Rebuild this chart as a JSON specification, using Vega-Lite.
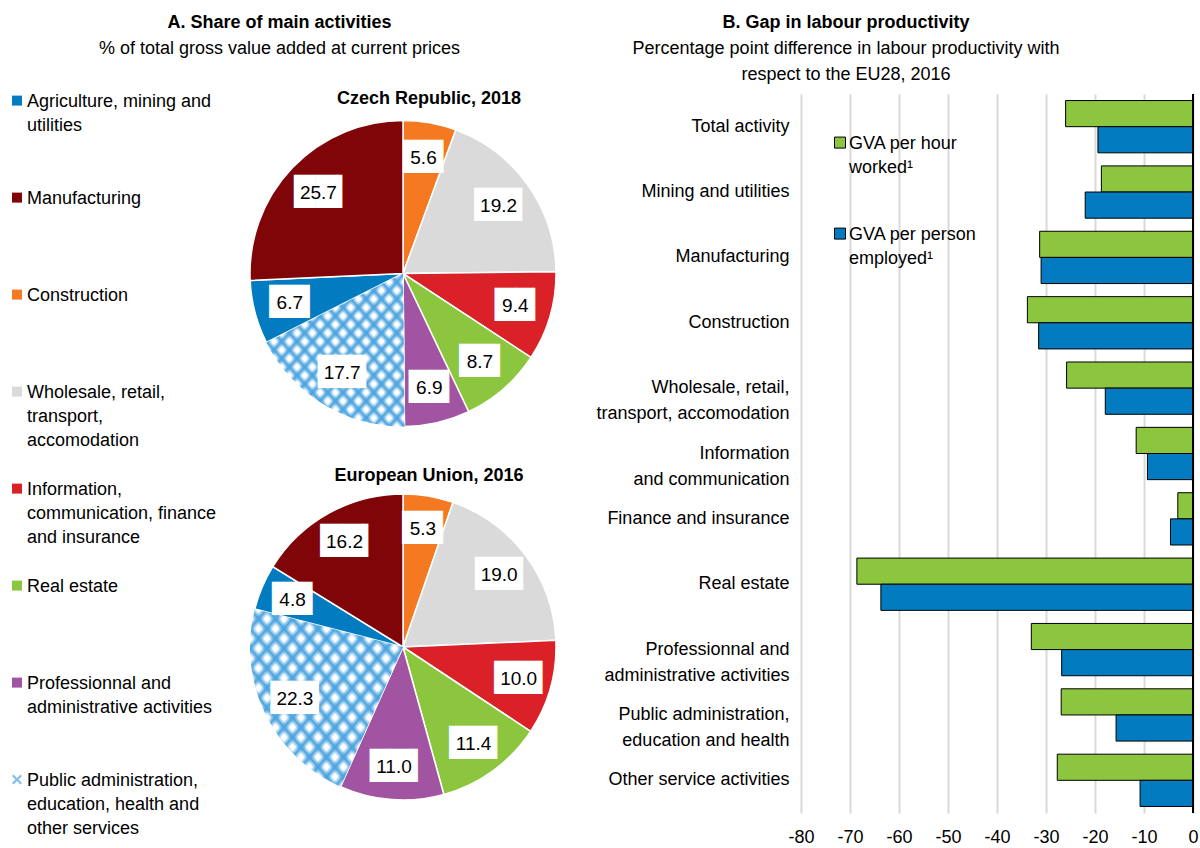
{
  "$schema": "https://vega.github.io/schema/vega-lite/v6.json",
  "padding": {"left": 8, "top": 14, "right": 0, "bottom": 0},
  "background": "white",
  "datasets": {
    "pies": [
      {"pie": "CR", "k": 1, "cat": "Construction", "v": 5.6},
      {"pie": "CR", "k": 2, "cat": "Wholesale, retail,|transport,|\u00a0accomodation", "v": 19.2},
      {"pie": "CR", "k": 3, "cat": "Information,|communication, finance|and insurance", "v": 9.4},
      {"pie": "CR", "k": 4, "cat": "Real estate", "v": 8.7},
      {"pie": "CR", "k": 5, "cat": "Professionnal and|administrative activities", "v": 6.9},
      {"pie": "CR", "k": 6, "cat": "Public administration,|education, health and|other services", "v": 17.7},
      {"pie": "CR", "k": 7, "cat": "Agriculture, mining and|utilities", "v": 6.7},
      {"pie": "CR", "k": 8, "cat": "Manufacturing", "v": 25.7},
      {"pie": "EU", "k": 1, "cat": "Construction", "v": 5.3},
      {"pie": "EU", "k": 2, "cat": "Wholesale, retail,|transport,|\u00a0accomodation", "v": 19.0},
      {"pie": "EU", "k": 3, "cat": "Information,|communication, finance|and insurance", "v": 10.0},
      {"pie": "EU", "k": 4, "cat": "Real estate", "v": 11.4},
      {"pie": "EU", "k": 5, "cat": "Professionnal and|administrative activities", "v": 11.0},
      {"pie": "EU", "k": 6, "cat": "Public administration,|education, health and|other services", "v": 22.3},
      {"pie": "EU", "k": 7, "cat": "Agriculture, mining and|utilities", "v": 4.8},
      {"pie": "EU", "k": 8, "cat": "Manufacturing", "v": 16.2}
    ],
    "gap": [
      {"sector": "Total activity", "m": "GVA per hour|worked¹", "v": -26.0},
      {"sector": "Total activity", "m": "GVA per person|employed¹", "v": -19.4},
      {"sector": "Mining and utilities", "m": "GVA per hour|worked¹", "v": -18.7},
      {"sector": "Mining and utilities", "m": "GVA per person|employed¹", "v": -22.0},
      {"sector": "Manufacturing", "m": "GVA per hour|worked¹", "v": -31.3},
      {"sector": "Manufacturing", "m": "GVA per person|employed¹", "v": -31.0},
      {"sector": "Construction", "m": "GVA per hour|worked¹", "v": -33.8},
      {"sector": "Construction", "m": "GVA per person|employed¹", "v": -31.5},
      {"sector": "Wholesale, retail,|transport, accomodation", "m": "GVA per hour|worked¹", "v": -25.8},
      {"sector": "Wholesale, retail,|transport, accomodation", "m": "GVA per person|employed¹", "v": -17.9},
      {"sector": "Information|and communication", "m": "GVA per hour|worked¹", "v": -11.6},
      {"sector": "Information|and communication", "m": "GVA per person|employed¹", "v": -9.3},
      {"sector": "Finance and insurance", "m": "GVA per hour|worked¹", "v": -3.1},
      {"sector": "Finance and insurance", "m": "GVA per person|employed¹", "v": -4.6},
      {"sector": "Real estate", "m": "GVA per hour|worked¹", "v": -68.6},
      {"sector": "Real estate", "m": "GVA per person|employed¹", "v": -63.7},
      {"sector": "Professionnal and|administrative activities", "m": "GVA per hour|worked¹", "v": -33.0},
      {"sector": "Professionnal and|administrative activities", "m": "GVA per person|employed¹", "v": -26.8},
      {"sector": "Public administration,|education and health", "m": "GVA per hour|worked¹", "v": -26.9},
      {"sector": "Public administration,|education and health", "m": "GVA per person|employed¹", "v": -15.7},
      {"sector": "Other service activities", "m": "GVA per hour|worked¹", "v": -27.7},
      {"sector": "Other service activities", "m": "GVA per person|employed¹", "v": -10.8}
    ]
  },
  "config": {
    "font": "Liberation Sans",
    "view": {"stroke": null},
    "style": {"guide-label": {"lineHeight": 24}},
    "title": {"font": "Liberation Sans", "fontSize": 18, "fontWeight": "bold", "color": "black", "subtitleFont": "Liberation Sans", "subtitleFontSize": 18, "subtitleColor": "black", "subtitlePadding": 8, "anchor": "middle"},
    "axis": {"labelFont": "Liberation Sans", "labelColor": "black", "labelFontSize": 18},
    "legend": {"labelFont": "Liberation Sans", "labelColor": "black", "padding": 0},
    "text": {"font": "Liberation Sans"}
  },
  "resolve": {"scale": {"color": "independent"}, "legend": {"color": "independent"}},
  "spacing": 36,
  "hconcat": [
    {
      "title": {"text": "A. Share of main activities", "subtitle": "% of total gross value added at current prices", "offset": 26, "dx": -4},
      "spacing": 14,
      "resolve": {"scale": {"theta": "independent"}},
      "vconcat": [
        {
          "data": {"name": "pies"},
          "transform": [{"filter": "datum.pie === 'CR'"}],
          "width": 306, "height": 359,
          "title": {"text": "Czech Republic, 2018", "dx": 26, "offset": -14},
          "layer": [
            {"mark": {"type": "point", "filled": true, "color": "#4aa3df"},
             "encoding": {
               "shape": {"field": "cat", "type": "nominal",
                 "scale": {"domain": ["Agriculture, mining and|utilities", "Manufacturing", "Construction", "Wholesale, retail,|transport,|\u00a0accomodation", "Information,|communication, finance|and insurance", "Real estate", "Professionnal and|administrative activities", "Public administration,|education, health and|other services"],
                           "range": ["M0,0Z", "M0,0Z", "M0,0Z", "M0,0Z", "M0,0Z", "M0,0Z", "M0,0Z", "M-1,0.82L-0.7,0.52L0,1.22L0.7,0.52L1,0.82L0.3,1.52L1,2.22L0.7,2.52L0,1.82L-0.7,2.52L-1,2.22L-0.3,1.52Z"]},
                 "legend": {"orient": "none", "legendX": -242, "legendY": -10, "title": null, "labelExpr": "split(datum.label, '|')", "labelFontSize": 18, "labelOpacity": 0, "labelLimit": 300, "labelBaseline": "top", "labelOffset": 1, "symbolSize": 100, "symbolFillColor": "#4aa3df", "symbolStrokeWidth": 0, "gridAlign": "all", "rowPadding": 22}}
             }},
            {"encoding": {"theta": {"field": "v", "type": "quantitative", "stack": true}, "order": {"field": "k", "type": "quantitative"}},
             "layer": [
              {"mark": {"type": "arc", "stroke": "white", "strokeWidth": 1.5},
               "encoding": {"color": {"field": "cat", "type": "nominal", "condition": {"test": "datum.k === 6", "value": "white"},
                 "scale": {"domain": ["Agriculture, mining and|utilities", "Manufacturing", "Construction", "Wholesale, retail,|transport,|\u00a0accomodation", "Information,|communication, finance|and insurance", "Real estate", "Professionnal and|administrative activities", "Public administration,|education, health and|other services"],
                           "range": ["#037bc1", "#7f0509", "#f47920", "#dadada", "#da2128", "#8cc63f", "#a154a1", "transparent"]},
                 "legend": {"orient": "none", "legendX": -242, "legendY": -10, "title": null, "labelExpr": "split(datum.label, '|')", "labelFontSize": 18, "labelColor": "black", "labelLimit": 300, "labelBaseline": "top", "labelOffset": 1, "symbolSize": 100, "symbolType": "M-1,0.52L1,0.52L1,2.52L-1,2.52Z", "symbolStrokeWidth": 0, "gridAlign": "all", "rowPadding": 22}}}},
              {"mark": {"type": "arc", "fill": {"gradient": "linear", "x1": 0, "y1": 0, "x2": 1, "y2": 1, "stops": [
                {"offset": 0, "color": "#4aa3df"}, {"offset": 0.0194, "color": "rgba(74,163,223,0)"}, {"offset": 0.0361, "color": "rgba(74,163,223,0)"},
                {"offset": 0.0556, "color": "#4aa3df"}, {"offset": 0.075, "color": "rgba(74,163,223,0)"}, {"offset": 0.0917, "color": "rgba(74,163,223,0)"},
                {"offset": 0.1111, "color": "#4aa3df"}, {"offset": 0.1306, "color": "rgba(74,163,223,0)"}, {"offset": 0.1472, "color": "rgba(74,163,223,0)"},
                {"offset": 0.1667, "color": "#4aa3df"}, {"offset": 0.1861, "color": "rgba(74,163,223,0)"}, {"offset": 0.2028, "color": "rgba(74,163,223,0)"},
                {"offset": 0.2222, "color": "#4aa3df"}, {"offset": 0.2417, "color": "rgba(74,163,223,0)"}, {"offset": 0.2583, "color": "rgba(74,163,223,0)"},
                {"offset": 0.2778, "color": "#4aa3df"}, {"offset": 0.2972, "color": "rgba(74,163,223,0)"}, {"offset": 0.3139, "color": "rgba(74,163,223,0)"},
                {"offset": 0.3333, "color": "#4aa3df"}, {"offset": 0.3528, "color": "rgba(74,163,223,0)"}, {"offset": 0.3694, "color": "rgba(74,163,223,0)"},
                {"offset": 0.3889, "color": "#4aa3df"}, {"offset": 0.4083, "color": "rgba(74,163,223,0)"}, {"offset": 0.425, "color": "rgba(74,163,223,0)"},
                {"offset": 0.4444, "color": "#4aa3df"}, {"offset": 0.4639, "color": "rgba(74,163,223,0)"}, {"offset": 0.4806, "color": "rgba(74,163,223,0)"},
                {"offset": 0.5, "color": "#4aa3df"}, {"offset": 0.5194, "color": "rgba(74,163,223,0)"}, {"offset": 0.5361, "color": "rgba(74,163,223,0)"},
                {"offset": 0.5556, "color": "#4aa3df"}, {"offset": 0.575, "color": "rgba(74,163,223,0)"}, {"offset": 0.5917, "color": "rgba(74,163,223,0)"},
                {"offset": 0.6111, "color": "#4aa3df"}, {"offset": 0.6306, "color": "rgba(74,163,223,0)"}, {"offset": 0.6472, "color": "rgba(74,163,223,0)"},
                {"offset": 0.6667, "color": "#4aa3df"}, {"offset": 0.6861, "color": "rgba(74,163,223,0)"}, {"offset": 0.7028, "color": "rgba(74,163,223,0)"},
                {"offset": 0.7222, "color": "#4aa3df"}, {"offset": 0.7417, "color": "rgba(74,163,223,0)"}, {"offset": 0.7583, "color": "rgba(74,163,223,0)"},
                {"offset": 0.7778, "color": "#4aa3df"}, {"offset": 0.7972, "color": "rgba(74,163,223,0)"}, {"offset": 0.8139, "color": "rgba(74,163,223,0)"},
                {"offset": 0.8333, "color": "#4aa3df"}, {"offset": 0.8528, "color": "rgba(74,163,223,0)"}, {"offset": 0.8694, "color": "rgba(74,163,223,0)"},
                {"offset": 0.8889, "color": "#4aa3df"}, {"offset": 0.9083, "color": "rgba(74,163,223,0)"}, {"offset": 0.925, "color": "rgba(74,163,223,0)"},
                {"offset": 0.9444, "color": "#4aa3df"}, {"offset": 0.9639, "color": "rgba(74,163,223,0)"}, {"offset": 0.9806, "color": "rgba(74,163,223,0)"},
                {"offset": 1, "color": "#4aa3df"}]}},
               "encoding": {"opacity": {"condition": {"test": "datum.k === 6", "value": 1}, "value": 0}}},
              {"mark": {"type": "arc", "fill": {"gradient": "linear", "x1": 1, "y1": 0, "x2": 0, "y2": 1, "stops": [
                {"offset": 0, "color": "#4aa3df"}, {"offset": 0.0194, "color": "rgba(74,163,223,0)"}, {"offset": 0.0361, "color": "rgba(74,163,223,0)"},
                {"offset": 0.0556, "color": "#4aa3df"}, {"offset": 0.075, "color": "rgba(74,163,223,0)"}, {"offset": 0.0917, "color": "rgba(74,163,223,0)"},
                {"offset": 0.1111, "color": "#4aa3df"}, {"offset": 0.1306, "color": "rgba(74,163,223,0)"}, {"offset": 0.1472, "color": "rgba(74,163,223,0)"},
                {"offset": 0.1667, "color": "#4aa3df"}, {"offset": 0.1861, "color": "rgba(74,163,223,0)"}, {"offset": 0.2028, "color": "rgba(74,163,223,0)"},
                {"offset": 0.2222, "color": "#4aa3df"}, {"offset": 0.2417, "color": "rgba(74,163,223,0)"}, {"offset": 0.2583, "color": "rgba(74,163,223,0)"},
                {"offset": 0.2778, "color": "#4aa3df"}, {"offset": 0.2972, "color": "rgba(74,163,223,0)"}, {"offset": 0.3139, "color": "rgba(74,163,223,0)"},
                {"offset": 0.3333, "color": "#4aa3df"}, {"offset": 0.3528, "color": "rgba(74,163,223,0)"}, {"offset": 0.3694, "color": "rgba(74,163,223,0)"},
                {"offset": 0.3889, "color": "#4aa3df"}, {"offset": 0.4083, "color": "rgba(74,163,223,0)"}, {"offset": 0.425, "color": "rgba(74,163,223,0)"},
                {"offset": 0.4444, "color": "#4aa3df"}, {"offset": 0.4639, "color": "rgba(74,163,223,0)"}, {"offset": 0.4806, "color": "rgba(74,163,223,0)"},
                {"offset": 0.5, "color": "#4aa3df"}, {"offset": 0.5194, "color": "rgba(74,163,223,0)"}, {"offset": 0.5361, "color": "rgba(74,163,223,0)"},
                {"offset": 0.5556, "color": "#4aa3df"}, {"offset": 0.575, "color": "rgba(74,163,223,0)"}, {"offset": 0.5917, "color": "rgba(74,163,223,0)"},
                {"offset": 0.6111, "color": "#4aa3df"}, {"offset": 0.6306, "color": "rgba(74,163,223,0)"}, {"offset": 0.6472, "color": "rgba(74,163,223,0)"},
                {"offset": 0.6667, "color": "#4aa3df"}, {"offset": 0.6861, "color": "rgba(74,163,223,0)"}, {"offset": 0.7028, "color": "rgba(74,163,223,0)"},
                {"offset": 0.7222, "color": "#4aa3df"}, {"offset": 0.7417, "color": "rgba(74,163,223,0)"}, {"offset": 0.7583, "color": "rgba(74,163,223,0)"},
                {"offset": 0.7778, "color": "#4aa3df"}, {"offset": 0.7972, "color": "rgba(74,163,223,0)"}, {"offset": 0.8139, "color": "rgba(74,163,223,0)"},
                {"offset": 0.8333, "color": "#4aa3df"}, {"offset": 0.8528, "color": "rgba(74,163,223,0)"}, {"offset": 0.8694, "color": "rgba(74,163,223,0)"},
                {"offset": 0.8889, "color": "#4aa3df"}, {"offset": 0.9083, "color": "rgba(74,163,223,0)"}, {"offset": 0.925, "color": "rgba(74,163,223,0)"},
                {"offset": 0.9444, "color": "#4aa3df"}, {"offset": 0.9639, "color": "rgba(74,163,223,0)"}, {"offset": 0.9806, "color": "rgba(74,163,223,0)"},
                {"offset": 1, "color": "#4aa3df"}]}},
               "encoding": {"opacity": {"condition": {"test": "datum.k === 6", "value": 1}, "value": 0}}},
              {"mark": {"type": "text", "radius": 117, "font": "DejaVu Sans", "fontSize": 28, "color": "white", "dx": 8},
               "encoding": {"text": {"condition": {"test": "datum.v >= 10", "value": "██▎"}, "value": ""}}},
              {"mark": {"type": "text", "radius": 117, "font": "DejaVu Sans", "fontSize": 28, "color": "white", "dx": 1},
               "encoding": {"text": {"condition": {"test": "datum.v < 10", "value": "█▉"}, "value": ""}}},
              {"mark": {"type": "text", "radius": 117, "fontSize": 19, "color": "black"},
               "encoding": {"text": {"field": "v", "type": "quantitative", "format": ".1f"}}}
             ]}
          ]
        },
        {
          "data": {"name": "pies"},
          "transform": [{"filter": "datum.pie === 'EU'"}],
          "width": 306, "height": 306,
          "title": {"text": "European Union, 2016", "dx": 26, "offset": 6},
          "layer": [
            {"mark": {"type": "point", "filled": true, "color": "#4aa3df"},
             "encoding": {
               "shape": {"field": "cat", "type": "nominal",
                 "scale": {"domain": ["Agriculture, mining and|utilities", "Manufacturing", "Construction", "Wholesale, retail,|transport,|\u00a0accomodation", "Information,|communication, finance|and insurance", "Real estate", "Professionnal and|administrative activities", "Public administration,|education, health and|other services"],
                           "range": ["M0,0Z", "M0,0Z", "M0,0Z", "M0,0Z", "M0,0Z", "M0,0Z", "M0,0Z", "M-1,0.82L-0.7,0.52L0,1.22L0.7,0.52L1,0.82L0.3,1.52L1,2.22L0.7,2.52L0,1.82L-0.7,2.52L-1,2.22L-0.3,1.52Z"]},
                 "legend": {"orient": "none", "legendX": -242, "legendY": -10, "title": null, "labelExpr": "split(datum.label, '|')", "labelFontSize": 18, "labelOpacity": 0, "labelLimit": 300, "labelBaseline": "top", "labelOffset": 1, "symbolSize": 100, "symbolFillColor": "#4aa3df", "symbolStrokeWidth": 0, "gridAlign": "all", "rowPadding": 22}}
             }},
            {"encoding": {"theta": {"field": "v", "type": "quantitative", "stack": true}, "order": {"field": "k", "type": "quantitative"}},
             "layer": [
              {"mark": {"type": "arc", "stroke": "white", "strokeWidth": 1.5},
               "encoding": {"color": {"field": "cat", "type": "nominal", "condition": {"test": "datum.k === 6", "value": "white"},
                 "scale": {"domain": ["Agriculture, mining and|utilities", "Manufacturing", "Construction", "Wholesale, retail,|transport,|\u00a0accomodation", "Information,|communication, finance|and insurance", "Real estate", "Professionnal and|administrative activities", "Public administration,|education, health and|other services"],
                           "range": ["#037bc1", "#7f0509", "#f47920", "#dadada", "#da2128", "#8cc63f", "#a154a1", "transparent"]},
                 "legend": {"orient": "none", "legendX": -242, "legendY": -10, "title": null, "labelExpr": "split(datum.label, '|')", "labelFontSize": 18, "labelColor": "black", "labelLimit": 300, "labelBaseline": "top", "labelOffset": 1, "symbolSize": 100, "symbolType": "M-1,0.52L1,0.52L1,2.52L-1,2.52Z", "symbolStrokeWidth": 0, "gridAlign": "all", "rowPadding": 22}}}},
              {"mark": {"type": "arc", "fill": {"gradient": "linear", "x1": 0, "y1": 0, "x2": 1, "y2": 1, "stops": [
                {"offset": 0, "color": "#4aa3df"}, {"offset": 0.0194, "color": "rgba(74,163,223,0)"}, {"offset": 0.0361, "color": "rgba(74,163,223,0)"},
                {"offset": 0.0556, "color": "#4aa3df"}, {"offset": 0.075, "color": "rgba(74,163,223,0)"}, {"offset": 0.0917, "color": "rgba(74,163,223,0)"},
                {"offset": 0.1111, "color": "#4aa3df"}, {"offset": 0.1306, "color": "rgba(74,163,223,0)"}, {"offset": 0.1472, "color": "rgba(74,163,223,0)"},
                {"offset": 0.1667, "color": "#4aa3df"}, {"offset": 0.1861, "color": "rgba(74,163,223,0)"}, {"offset": 0.2028, "color": "rgba(74,163,223,0)"},
                {"offset": 0.2222, "color": "#4aa3df"}, {"offset": 0.2417, "color": "rgba(74,163,223,0)"}, {"offset": 0.2583, "color": "rgba(74,163,223,0)"},
                {"offset": 0.2778, "color": "#4aa3df"}, {"offset": 0.2972, "color": "rgba(74,163,223,0)"}, {"offset": 0.3139, "color": "rgba(74,163,223,0)"},
                {"offset": 0.3333, "color": "#4aa3df"}, {"offset": 0.3528, "color": "rgba(74,163,223,0)"}, {"offset": 0.3694, "color": "rgba(74,163,223,0)"},
                {"offset": 0.3889, "color": "#4aa3df"}, {"offset": 0.4083, "color": "rgba(74,163,223,0)"}, {"offset": 0.425, "color": "rgba(74,163,223,0)"},
                {"offset": 0.4444, "color": "#4aa3df"}, {"offset": 0.4639, "color": "rgba(74,163,223,0)"}, {"offset": 0.4806, "color": "rgba(74,163,223,0)"},
                {"offset": 0.5, "color": "#4aa3df"}, {"offset": 0.5194, "color": "rgba(74,163,223,0)"}, {"offset": 0.5361, "color": "rgba(74,163,223,0)"},
                {"offset": 0.5556, "color": "#4aa3df"}, {"offset": 0.575, "color": "rgba(74,163,223,0)"}, {"offset": 0.5917, "color": "rgba(74,163,223,0)"},
                {"offset": 0.6111, "color": "#4aa3df"}, {"offset": 0.6306, "color": "rgba(74,163,223,0)"}, {"offset": 0.6472, "color": "rgba(74,163,223,0)"},
                {"offset": 0.6667, "color": "#4aa3df"}, {"offset": 0.6861, "color": "rgba(74,163,223,0)"}, {"offset": 0.7028, "color": "rgba(74,163,223,0)"},
                {"offset": 0.7222, "color": "#4aa3df"}, {"offset": 0.7417, "color": "rgba(74,163,223,0)"}, {"offset": 0.7583, "color": "rgba(74,163,223,0)"},
                {"offset": 0.7778, "color": "#4aa3df"}, {"offset": 0.7972, "color": "rgba(74,163,223,0)"}, {"offset": 0.8139, "color": "rgba(74,163,223,0)"},
                {"offset": 0.8333, "color": "#4aa3df"}, {"offset": 0.8528, "color": "rgba(74,163,223,0)"}, {"offset": 0.8694, "color": "rgba(74,163,223,0)"},
                {"offset": 0.8889, "color": "#4aa3df"}, {"offset": 0.9083, "color": "rgba(74,163,223,0)"}, {"offset": 0.925, "color": "rgba(74,163,223,0)"},
                {"offset": 0.9444, "color": "#4aa3df"}, {"offset": 0.9639, "color": "rgba(74,163,223,0)"}, {"offset": 0.9806, "color": "rgba(74,163,223,0)"},
                {"offset": 1, "color": "#4aa3df"}]}},
               "encoding": {"opacity": {"condition": {"test": "datum.k === 6", "value": 1}, "value": 0}}},
              {"mark": {"type": "arc", "fill": {"gradient": "linear", "x1": 1, "y1": 0, "x2": 0, "y2": 1, "stops": [
                {"offset": 0, "color": "#4aa3df"}, {"offset": 0.0194, "color": "rgba(74,163,223,0)"}, {"offset": 0.0361, "color": "rgba(74,163,223,0)"},
                {"offset": 0.0556, "color": "#4aa3df"}, {"offset": 0.075, "color": "rgba(74,163,223,0)"}, {"offset": 0.0917, "color": "rgba(74,163,223,0)"},
                {"offset": 0.1111, "color": "#4aa3df"}, {"offset": 0.1306, "color": "rgba(74,163,223,0)"}, {"offset": 0.1472, "color": "rgba(74,163,223,0)"},
                {"offset": 0.1667, "color": "#4aa3df"}, {"offset": 0.1861, "color": "rgba(74,163,223,0)"}, {"offset": 0.2028, "color": "rgba(74,163,223,0)"},
                {"offset": 0.2222, "color": "#4aa3df"}, {"offset": 0.2417, "color": "rgba(74,163,223,0)"}, {"offset": 0.2583, "color": "rgba(74,163,223,0)"},
                {"offset": 0.2778, "color": "#4aa3df"}, {"offset": 0.2972, "color": "rgba(74,163,223,0)"}, {"offset": 0.3139, "color": "rgba(74,163,223,0)"},
                {"offset": 0.3333, "color": "#4aa3df"}, {"offset": 0.3528, "color": "rgba(74,163,223,0)"}, {"offset": 0.3694, "color": "rgba(74,163,223,0)"},
                {"offset": 0.3889, "color": "#4aa3df"}, {"offset": 0.4083, "color": "rgba(74,163,223,0)"}, {"offset": 0.425, "color": "rgba(74,163,223,0)"},
                {"offset": 0.4444, "color": "#4aa3df"}, {"offset": 0.4639, "color": "rgba(74,163,223,0)"}, {"offset": 0.4806, "color": "rgba(74,163,223,0)"},
                {"offset": 0.5, "color": "#4aa3df"}, {"offset": 0.5194, "color": "rgba(74,163,223,0)"}, {"offset": 0.5361, "color": "rgba(74,163,223,0)"},
                {"offset": 0.5556, "color": "#4aa3df"}, {"offset": 0.575, "color": "rgba(74,163,223,0)"}, {"offset": 0.5917, "color": "rgba(74,163,223,0)"},
                {"offset": 0.6111, "color": "#4aa3df"}, {"offset": 0.6306, "color": "rgba(74,163,223,0)"}, {"offset": 0.6472, "color": "rgba(74,163,223,0)"},
                {"offset": 0.6667, "color": "#4aa3df"}, {"offset": 0.6861, "color": "rgba(74,163,223,0)"}, {"offset": 0.7028, "color": "rgba(74,163,223,0)"},
                {"offset": 0.7222, "color": "#4aa3df"}, {"offset": 0.7417, "color": "rgba(74,163,223,0)"}, {"offset": 0.7583, "color": "rgba(74,163,223,0)"},
                {"offset": 0.7778, "color": "#4aa3df"}, {"offset": 0.7972, "color": "rgba(74,163,223,0)"}, {"offset": 0.8139, "color": "rgba(74,163,223,0)"},
                {"offset": 0.8333, "color": "#4aa3df"}, {"offset": 0.8528, "color": "rgba(74,163,223,0)"}, {"offset": 0.8694, "color": "rgba(74,163,223,0)"},
                {"offset": 0.8889, "color": "#4aa3df"}, {"offset": 0.9083, "color": "rgba(74,163,223,0)"}, {"offset": 0.925, "color": "rgba(74,163,223,0)"},
                {"offset": 0.9444, "color": "#4aa3df"}, {"offset": 0.9639, "color": "rgba(74,163,223,0)"}, {"offset": 0.9806, "color": "rgba(74,163,223,0)"},
                {"offset": 1, "color": "#4aa3df"}]}},
               "encoding": {"opacity": {"condition": {"test": "datum.k === 6", "value": 1}, "value": 0}}},
              {"mark": {"type": "text", "radius": 120, "font": "DejaVu Sans", "fontSize": 28, "color": "white", "dx": 8},
               "encoding": {"text": {"condition": {"test": "datum.v >= 10", "value": "██▎"}, "value": ""}}},
              {"mark": {"type": "text", "radius": 120, "font": "DejaVu Sans", "fontSize": 28, "color": "white", "dx": 1},
               "encoding": {"text": {"condition": {"test": "datum.v < 10", "value": "█▉"}, "value": ""}}},
              {"mark": {"type": "text", "radius": 120, "fontSize": 19, "color": "black"},
               "encoding": {"text": {"field": "v", "type": "quantitative", "format": ".1f"}}}
             ]}
          ]
        }
      ]
    },
    {
      "data": {"name": "gap"},
      "width": 392, "height": 719,
      "title": {"text": "B. Gap in labour productivity", "subtitle": ["Percentage point difference in labour productivity with", "respect to the EU28, 2016"], "dx": -151, "offset": 9, "subtitleLineHeight": 26},
      "layer": [
        {"mark": {"type": "bar", "stroke": "black", "strokeWidth": 1},
         "encoding": {
           "y": {"field": "sector", "type": "nominal",
                 "sort": ["Total activity", "Mining and utilities", "Manufacturing", "Construction", "Wholesale, retail,|transport, accomodation", "Information|and communication", "Finance and insurance", "Real estate", "Professionnal and|administrative activities", "Public administration,|education and health", "Other service activities"],
                 "scale": {"paddingInner": 0.2, "paddingOuter": 0.1},
                 "axis": {"title": null, "labelExpr": "split(datum.label, '|')", "ticks": false, "domain": false, "labelPadding": 12, "labelLimit": 260, "labelLineHeight": 26, "labelFontSize": 18}},
           "yOffset": {"field": "m", "type": "nominal", "sort": ["GVA per hour|worked¹", "GVA per person|employed¹"]},
           "x": {"field": "v", "type": "quantitative", "scale": {"domain": [-80, 0], "nice": false},
                 "axis": {"values": [-80, -70, -60, -50, -40, -30, -20, -10, 0], "labelExpr": "'' + datum.value", "labelFlush": false, "grid": true, "gridColor": "#d9d9d9", "gridWidth": 2, "domain": false, "ticks": false, "labelPadding": 15, "title": null, "labelFontSize": 18, "labelLineHeight": 18}},
           "color": {"field": "m", "type": "nominal",
                     "scale": {"domain": ["GVA per hour|worked¹", "GVA per person|employed¹"], "range": ["#8cc63f", "#037bc1"]},
                     "legend": {"orient": "none", "legendX": 30, "legendY": 32, "title": null, "labelExpr": "split(datum.label, '|')", "labelFontSize": 18, "labelBaseline": "top", "labelOffset": 0, "labelLimit": 300, "symbolSize": 121, "symbolType": "M-1,0.38L1,0.38L1,2.38L-1,2.38Z", "symbolStrokeColor": "black", "symbolStrokeWidth": 1, "rowPadding": 40}}
         }},
        {"mark": {"type": "rule", "color": "black", "strokeWidth": 2}, "encoding": {"x": {"datum": 0}}}
      ]
    }
  ]
}
